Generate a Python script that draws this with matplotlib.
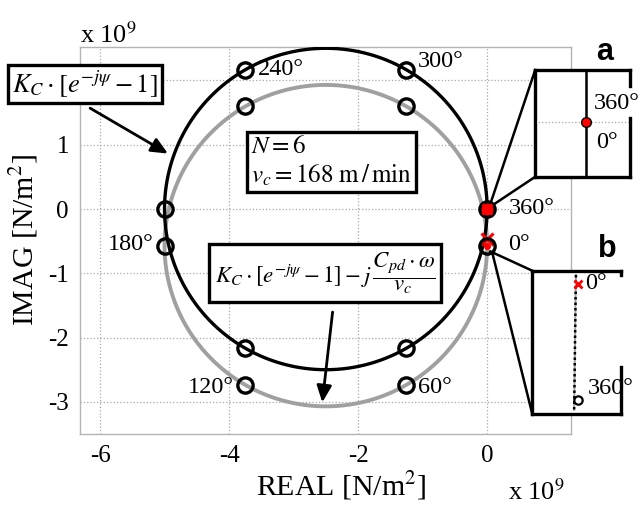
import numpy as np
import matplotlib.pyplot as plt

plt.rcParams['font.family'] = ['Liberation Serif', 'DejaVu Serif']
plt.rcParams['mathtext.fontset'] = 'stix'
plt.rcParams['axes.unicode_minus'] = False

# Cutting force coefficient and damping shift (x 10^9 N/m^2)
Kc = 2.5
shift = 0.57
psi_deg = np.arange(0, 361, 1)
marker_deg = [60, 120, 180, 240, 300]

# inset b: trace of the damped curve close to psi = 0 / 360 (axes fractions)
b_x = [0.49, 0.485, 0.48, 0.475, 0.47]
b_y = [0.97, 0.75, 0.5, 0.25, 0.03]

W, H = 643, 507
fig = plt.figure(figsize=(W / 100, H / 100), dpi=100)


def px(x, y):
    return x / W, 1 - y / H


ax = fig.add_axes([80 / W, 1 - 434 / H, 491 / W, 387 / H])
ax.set_xlim(-6.31, 1.30)
ax.set_ylim(-3.50, 2.52)
ax.set_xticks([-6, -4, -2, 0])
ax.set_yticks([-3, -2, -1, 0, 1, 2])
ax.set_yticklabels(['-3', '-2', '-1', '0', '1', ''])
ax.grid(True, ls=':', color='#a8a8a8', lw=0.9)
ax.tick_params(length=0, labelsize=18, pad=8)
for s in ax.spines.values():
    s.set_color('#b4b4b4')
    s.set_linewidth(1.0)

psi = np.radians(psi_deg)
re = Kc * (np.cos(psi) - 1)
im = Kc * np.sin(psi)
ax.plot(re, im - shift, color='#a0a0a0', lw=2.8, zorder=2)
ax.plot(re, im, color='black', lw=2.4, zorder=3)

pm = np.radians(marker_deg)
mre = Kc * (np.cos(pm) - 1)
mim = Kc * np.sin(pm)
mk = dict(ls='none', marker='o', ms=11, mfc='none', mec='black', mew=2.4, zorder=5)
ax.plot(mre, mim, **mk)
ax.plot(mre, mim - shift, **mk)

# start / end points
ax.plot([0], [-shift + 0.1], ls='none', marker='x', ms=8, mec='red', mew=2.2, zorder=4)
ax.plot([0], [-shift], ls='none', marker='o', ms=11, mfc='none', mec='black', mew=2.4, zorder=5)
ax.plot([0], [-shift], ls='none', marker='o', ms=4, mfc='red', mec='red', zorder=5)
ax.plot([0], [0], ls='none', marker='o', ms=11, mfc='red', mec='black', mew=2.4, zorder=5)
ax.plot([0], [0], ls='none', marker='x', ms=7, mec='red', mew=2.2, zorder=6)

fig.text(*px(341, 486), 'REAL [N/m$^2$]', fontsize=21.5, ha='center', va='center')
fig.text(*px(24, 240), 'IMAG [N/m$^2$]', fontsize=21.5, ha='center', va='center', rotation=90)
fig.text(*px(80, 43), 'x 10$^9$', fontsize=19, ha='left', va='baseline')
fig.text(*px(508, 500), 'x 10$^9$', fontsize=19, ha='left', va='baseline')

# angle labels
lab = dict(fontsize=17.5, va='center')
ax.text(-3.55, 2.17, '240°', ha='left', **lab)
ax.text(-1.07, 2.3, '300°', ha='left', **lab)
ax.text(-5.17, -0.56, '180°', ha='right', **lab)
ax.text(-3.92, -2.77, '120°', ha='right', **lab)
ax.text(-1.07, -2.77, '60°', ha='left', **lab)
ax.text(0.33, 0.0, '360°', ha='left', **lab)
ax.text(0.33, -0.56, '0°', ha='left', **lab)

# annotation boxes
box = dict(boxstyle='square,pad=0.15', fc='white', ec='black', lw=2.4)
fig.text(*px(85, 84), r'$K_C\cdot\left[e^{-j\psi}-1\right]$', fontsize=19,
         ha='center', va='center', bbox=box, zorder=10)
fig.text(*px(251, 162), '$N=6$\n$v_c=168\\ \\mathrm{m\\,/\\,min}$', fontsize=18,
         ha='left', va='center', linespacing=1.25, bbox=box, zorder=10)
fig.text(*px(325, 273),
         r'$K_C\cdot\left[e^{-j\psi}-1\right]-j\,\dfrac{C_{pd}\cdot\omega}{v_c}$',
         fontsize=16.5, ha='center', va='center',
         bbox=dict(boxstyle='square,pad=0.25', fc='white', ec='black', lw=2.4), zorder=10)

arr = dict(arrowstyle='-|>,head_length=1.0,head_width=0.45', color='black', lw=2)
ax.annotate('', xy=(-4.91, 0.84), xytext=(-6.19, 1.59), arrowprops=arr,
            annotation_clip=False)
ax.annotate('', xy=(-2.56, -3.05), xytext=(-2.39, -1.56), arrowprops=arr,
            annotation_clip=False)

# zoom insets
a_box = [0.744, 0.50, 1.475, 1.66]
b_box = [0.70, -3.19, 1.38, 2.23]
cl = dict(color='black', lw=1.8, clip_on=False, zorder=4)
ax.plot([0.744, 0.05], [2.16, 0.08], **cl)
ax.plot([0.744, 0.07], [0.50, 0.05], **cl)
ax.plot([0.70, 0.05], [-0.96, -0.66], **cl)
ax.plot([0.70, 0.08], [-3.19, -0.68], **cl)

axa = ax.inset_axes(a_box, transform=ax.transData, zorder=8)
axb = ax.inset_axes(b_box, transform=ax.transData, zorder=8)
for a in (axa, axb):
    a.set_xlim(0, 1)
    a.set_ylim(0, 1)
    a.set_xticks([])
    a.set_yticks([])
    for s in a.spines.values():
        s.set_linewidth(2.4)
    a.spines['right'].set_visible(False)

axa.axhline(0.514, color='#a8a8a8', ls=':', lw=0.9)
axa.plot([0.537, 0.537], [0, 1], color='black', lw=1.8)
axa.plot([0.537], [0.514], marker='o', ms=7, mfc='red', mec='black', mew=1)
axa.plot([1, 1], [1, 0.85], color='black', lw=2.4, clip_on=False)
axa.plot([1, 1], [0.55, 0], color='black', lw=2.4, clip_on=False)
axa.text(0.62, 0.69, '360°', fontsize=17.5, ha='left', va='center')
axa.text(0.64, 0.32, '0°', fontsize=17.5, ha='left', va='center')

axb.plot(b_x, b_y, color='#a0a0a0', lw=1.4)
axb.plot(b_x, b_y, color='black', lw=1.8, ls=(0, (1, 1.2)))
axb.plot([0.51], [0.91], marker='x', ms=6, mec='red', mew=2)
axb.plot([0.51], [0.10], marker='o', ms=6, mfc='white', mec='black', mew=1.6)
axb.plot([1, 1], [1, 0.97], color='black', lw=2.4, clip_on=False)
axb.plot([1, 1], [0.33, 0], color='black', lw=2.4, clip_on=False)
axb.text(0.59, 0.91, '0°', fontsize=17.5, ha='left', va='center')
axb.text(0.62, 0.18, '360°', fontsize=17.5, ha='left', va='center')

fig.text(*px(605, 60), 'a', fontsize=22, fontweight='bold', family='Liberation Sans',
         ha='center', va='baseline')
fig.text(*px(607, 257), 'b', fontsize=22, fontweight='bold', family='Liberation Sans',
         ha='center', va='baseline')

fig.savefig('out.png', dpi=100)
